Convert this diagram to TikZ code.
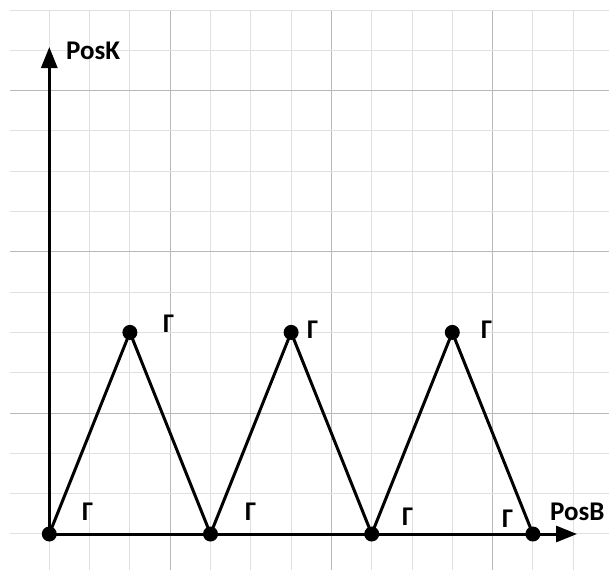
\documentclass[tikz,border=0pt]{standalone}
\usepackage{fontspec}
\setmainfont{Carlito}
\usetikzlibrary{arrows.meta}
\tikzset{
  minorgrid/.style={draw=black!12, line width=1pt},
  majorgrid/.style={draw=black!28, line width=1pt},
  dot/.style={circle, fill=black, inner sep=0pt, minimum size=15pt},
  edge/.style={draw=black, line width=3pt},
  axis/.style={draw=black, line width=3pt, -{Triangle[length=21pt,width=16pt]}},
  lbl/.style={anchor=base west, inner sep=0pt, font=\fontsize{27}{30}\selectfont\bfseries},
}
\begin{document}
\begin{tikzpicture}[x=1pt,y=-1pt]
\useasboundingbox (0,0) rectangle (609,570);
% grid
\foreach \k in {1,...,14}{
  \pgfmathsetmacro{\xx}{9+40.3*\k}
  \pgfmathtruncatemacro{\m}{mod(\k,4)}
  \ifnum\m=0 \draw[majorgrid] (\xx,10) -- (\xx,570);
  \else \draw[minorgrid] (\xx,10) -- (\xx,570); \fi
}
\foreach \j in {0,...,13}{
  \pgfmathsetmacro{\yy}{10+40.3*\j}
  \pgfmathtruncatemacro{\m}{mod(\j,4)}
  \ifnum\m=2 \draw[majorgrid] (10,\yy) -- (609,\yy);
  \else \draw[minorgrid] (10,\yy) -- (609,\yy); \fi
}
% points
\node[dot] (b0) at (49.3,534) {};
\node[dot] (b1) at (210.5,534) {};
\node[dot] (b2) at (371.7,534) {};
\node[dot] (b3) at (532.9,534) {};
\node[dot] (p1) at (129.9,332.4) {};
\node[dot] (p2) at (291.1,332.4) {};
\node[dot] (p3) at (452.3,332.4) {};
\coordinate (ytip) at (49.3,47);
\coordinate (xtip) at (577,534);
% axes
\draw[axis] (b0.center) -- (ytip);
\draw[axis] (b0.center) -- (xtip);
% zigzag
\draw[edge] (b0.center) -- (p1.center) -- (b1.center) -- (p2.center) -- (b2.center) -- (p3.center) -- (b3.center);
% labels
\node[lbl] (posk) at (66,59) {PosK};
\node[lbl] (posb) at (550,520) {PosB};
\node[lbl] (g0) at (82,520) {Γ};
\node[lbl] (g1) at (245,520) {Γ};
\node[lbl] (g2) at (402,525) {Γ};
\node[lbl] (g3) at (502,527) {Γ};
\node[lbl] (q1) at (163,332) {Γ};
\node[lbl] (q2) at (307,338) {Γ};
\node[lbl] (q3) at (481,338) {Γ};
\end{tikzpicture}
\end{document}
